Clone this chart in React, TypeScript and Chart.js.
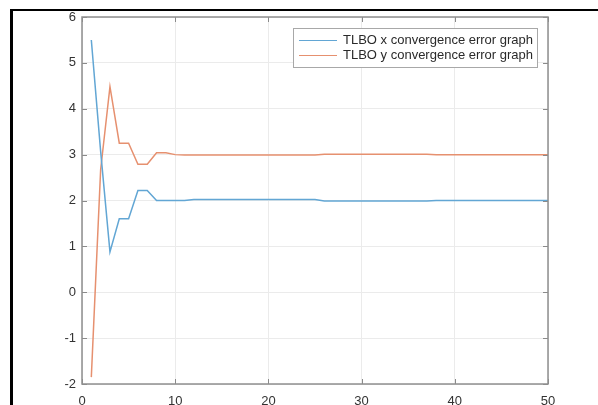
import React, { useEffect, useRef } from "react";
import { Chart, registerables } from "chart.js";

Chart.register(...registerables);

const iterations: number[] = Array.from({ length: 50 }, (_, i) => i + 1);

const xErrorValues: number[] = [
  5.5, 3.07, 0.88, 1.6, 1.6, 2.22, 2.22, 2.0, 2.0, 2.0,
  2.0, 2.02, 2.02, 2.02, 2.02, 2.02, 2.02, 2.02, 2.02, 2.02,
  2.02, 2.02, 2.02, 2.02, 2.02, 1.99, 1.99, 1.99, 1.99, 1.99,
  1.99, 1.99, 1.99, 1.99, 1.99, 1.99, 1.99, 2.0, 2.0, 2.0,
  2.0, 2.0, 2.0, 2.0, 2.0, 2.0, 2.0, 2.0, 2.0, 2.0,
];

const yErrorValues: number[] = [
  -1.85, 2.67, 4.48, 3.25, 3.25, 2.79, 2.79, 3.04, 3.04, 3.0,
  2.99, 2.99, 2.99, 2.99, 2.99, 2.99, 2.99, 2.99, 2.99, 2.99,
  2.99, 2.99, 2.99, 2.99, 2.99, 3.01, 3.01, 3.01, 3.01, 3.01,
  3.01, 3.01, 3.01, 3.01, 3.01, 3.01, 3.01, 3.0, 3.0, 3.0,
  3.0, 3.0, 3.0, 3.0, 3.0, 3.0, 3.0, 3.0, 3.0, 3.0,
];

const seriesLabels: string[] = [
  "TLBO x convergence error graph",
  "TLBO y convergence error graph",
];
const seriesColors: string[] = ["#62a6d4", "#e6906f"];

const xTicks: number[] = [0, 10, 20, 30, 40, 50];
const yTicks: number[] = [-2, -1, 0, 1, 2, 3, 4, 5, 6];

const FONT = "'Liberation Sans', Arial, Helvetica, sans-serif";

const framePlugin = {
  id: "matlabFrame",
  afterDraw(chart: any) {
    const { ctx, chartArea, scales } = chart;
    const { left, right, top, bottom } = chartArea;
    const xs = scales.x;
    const ys = scales.y;
    ctx.save();
    ctx.strokeStyle = "#8a8a8a";
    ctx.lineWidth = 1;
    ctx.beginPath();
    xTicks.forEach((v) => {
      const px = Math.round(xs.getPixelForValue(v)) + 0.5;
      ctx.moveTo(px, bottom);
      ctx.lineTo(px, bottom - 5);
      ctx.moveTo(px, top);
      ctx.lineTo(px, top + 5);
    });
    yTicks.forEach((v) => {
      const py = Math.round(ys.getPixelForValue(v)) + 0.5;
      ctx.moveTo(left, py);
      ctx.lineTo(left + 5, py);
      ctx.moveTo(right, py);
      ctx.lineTo(right - 5, py);
    });
    ctx.stroke();
    ctx.strokeStyle = "#8f8f8f";
    ctx.lineWidth = 1.5;
    ctx.strokeRect(left, top, right - left, bottom - top);

    const bx = 293;
    const by = 28;
    const bw = 244;
    const bh = 39;
    ctx.fillStyle = "#ffffff";
    ctx.fillRect(bx, by, bw, bh);
    ctx.strokeStyle = "#a8a8a8";
    ctx.lineWidth = 1;
    ctx.strokeRect(bx + 0.5, by + 0.5, bw, bh);
    ctx.font = `13px ${FONT}`;
    ctx.textBaseline = "middle";
    ctx.textAlign = "left";
    chart.data.datasets.forEach((ds: any, i: number) => {
      const ly = by + 12.5 + i * 15;
      ctx.strokeStyle = ds.borderColor;
      ctx.lineWidth = 1.2;
      ctx.beginPath();
      ctx.moveTo(bx + 6, ly);
      ctx.lineTo(bx + 44, ly);
      ctx.stroke();
      ctx.fillStyle = "#2a2a2a";
      ctx.fillText(ds.label, bx + 50, ly);
    });
    ctx.restore();
  },
};

export default function App() {
  const canvasRef = useRef<HTMLCanvasElement | null>(null);

  useEffect(() => {
    if (!canvasRef.current) return;
    const chart = new Chart(canvasRef.current, {
      type: "line",
      data: {
        datasets: [
          {
            label: seriesLabels[0],
            data: iterations.map((x, i) => ({ x, y: xErrorValues[i] })),
            borderColor: seriesColors[0],
            backgroundColor: seriesColors[0],
            borderWidth: 1.5,
            pointRadius: 0,
            tension: 0,
          },
          {
            label: seriesLabels[1],
            data: iterations.map((x, i) => ({ x, y: yErrorValues[i] })),
            borderColor: seriesColors[1],
            backgroundColor: seriesColors[1],
            borderWidth: 1.5,
            pointRadius: 0,
            tension: 0,
          },
        ],
      },
      options: {
        animation: false,
        responsive: false,
        maintainAspectRatio: false,
        layout: { padding: { left: 0, right: 50, top: 17, bottom: 0 } },
        plugins: {
          legend: { display: false },
          tooltip: { enabled: false },
        },
        scales: {
          x: {
            type: "linear",
            min: 0,
            max: 50,
            afterFit: (s: any) => {
              s.height = 21;
            },
            afterBuildTicks: (s: any) => {
              s.ticks = xTicks.map((v) => ({ value: v }));
            },
            grid: { color: "#ebebeb", drawTicks: false, lineWidth: 1 },
            border: { display: false },
            ticks: {
              padding: 10,
              color: "#333333",
              font: { family: FONT, size: 13 },
              maxRotation: 0,
            },
          },
          y: {
            type: "linear",
            min: -2,
            max: 6,
            afterFit: (s: any) => {
              s.width = 82;
            },
            afterBuildTicks: (s: any) => {
              s.ticks = yTicks.map((v) => ({ value: v }));
            },
            grid: { color: "#ebebeb", drawTicks: false, lineWidth: 1 },
            border: { display: false },
            ticks: {
              padding: 6,
              color: "#333333",
              font: { family: FONT, size: 13 },
            },
          },
        },
      },
      plugins: [framePlugin],
    });
    return () => chart.destroy();
  }, []);

  return (
    <div
      style={{
        position: "fixed",
        left: 0,
        top: 0,
        width: 598,
        height: 405,
        background: "#ffffff",
        overflow: "hidden",
      }}
    >
      <canvas
        ref={canvasRef}
        width={598}
        height={405}
        style={{ position: "absolute", left: 0, top: 0, width: 598, height: 405 }}
      />
      <div
        style={{
          position: "absolute",
          left: 10,
          top: 9,
          width: 600,
          height: 410,
          borderTop: "2px solid #000",
          borderLeft: "3px solid #000",
          pointerEvents: "none",
        }}
      />
    </div>
  );
}
